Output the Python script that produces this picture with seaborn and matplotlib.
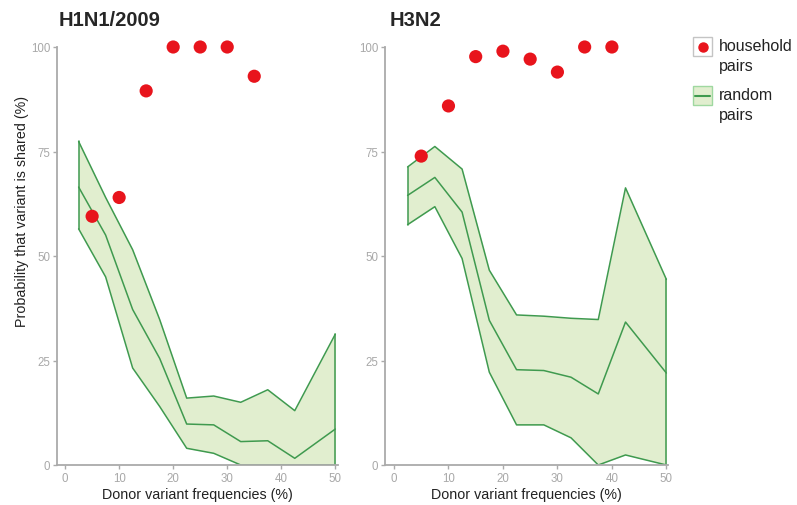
import matplotlib
matplotlib.use("Agg")
import matplotlib.pyplot as plt
import seaborn as sns
from matplotlib.lines import Line2D
from matplotlib.patches import Rectangle

# household pairs: observed share probability (%) per donor frequency
house_freq = [5, 10, 15, 20, 25, 30, 35, 40]
h1n1_house = [59.5, 64, 89.5, 100, 100, 100, 93]
h3n2_house = [73.9, 85.9, 97.7, 99.0, 97.1, 94.0, 100, 100]

# random pairs: bin centres and envelope (lower / median / upper)
rand_freq = [2.5, 7.5, 12.5, 17.5, 22.5, 27.5, 32.5, 37.5, 42.5, 50]
h1n1_low = [56.5, 45.0, 23.2, 14.0, 4.0, 2.8, 0, 0, 0, 0]
h1n1_mid = [66.5, 55.0, 37.2, 25.5, 9.8, 9.6, 5.6, 5.8, 1.6, 8.6]
h1n1_high = [77.4, 64.0, 51.5, 34.8, 16.0, 16.5, 15.0, 18.0, 13.0, 31.3]
h3n2_low = [57.5, 61.8, 49.4, 22.2, 9.6, 9.6, 6.5, 0, 2.4, 0]
h3n2_mid = [64.5, 68.8, 60.5, 34.6, 22.8, 22.6, 21.0, 17.0, 34.2, 22.0]
h3n2_high = [71.3, 76.2, 70.8, 46.6, 35.9, 35.6, 35.1, 34.8, 66.3, 44.4]

titles = ["H1N1/2009", "H3N2"]
legend_labels = ["household\npairs", "random\npairs"]

red = "#e8141c"
fill_green = "#e1eecf"
line_green = "#3f9a4f"
grey = "#aaaaaa"

sns.set_style("white")
plt.rcParams["font.family"] = ["Liberation Sans", "DejaVu Sans"]

W, H = 797, 506
fig = plt.figure(figsize=(W / 100, H / 100), dpi=100)
ax1 = fig.add_axes([57 / W, 1 - 466 / H, 281 / W, 418 / H])
ax2 = fig.add_axes([385 / W, 1 - 466 / H, 283 / W, 418 / H])

panels = [
    (ax1, h1n1_house, h1n1_low, h1n1_mid, h1n1_high),
    (ax2, h3n2_house, h3n2_low, h3n2_mid, h3n2_high),
]

for i, (ax, house, low, mid, high) in enumerate(panels):
    ax.fill_between(rand_freq, low, high, color=fill_green, lw=0, zorder=1)
    for ys in (low, mid, high):
        sns.lineplot(x=rand_freq, y=ys, ax=ax, color=line_green, lw=1.1,
                     estimator=None, zorder=2)
    # close the band at both ends
    ax.plot([rand_freq[0]] * 2, [low[0], high[0]], color=line_green, lw=1.1, zorder=2)
    ax.plot([rand_freq[-1]] * 2, [low[-1], high[-1]], color=line_green, lw=1.1, zorder=2)
    sns.scatterplot(x=house_freq[:len(house)], y=house, ax=ax, color=red, s=90,
                    edgecolor="none", zorder=4, clip_on=False)

    if i == 0:
        ax.set_xlim(-1.5, 50.5)
    else:
        ax.set_xlim(-1.65, 50.3)
    ax.set_ylim(0, 100)
    ax.set_xticks([0, 10, 20, 30, 40, 50])
    ax.set_yticks([0, 25, 50, 75, 100])
    sns.despine(ax=ax)
    for side in ("left", "bottom"):
        ax.spines[side].set_color(grey)
        ax.spines[side].set_linewidth(1.3)
    ax.tick_params(axis="both", colors=grey, labelcolor="#a8a8a8", labelsize=8.3,
                   length=3, width=1, left=True, bottom=True, pad=2)
    ax.set_xlabel("Donor variant frequencies (%)", fontsize=10.3, color="#222222",
                  labelpad=2)
    ax.set_title(titles[i], loc="left", fontsize=14.5, fontweight="bold",
                 x=0.005 if i == 0 else 0.015, pad=16)

ax1.set_ylabel("Probability that variant is shared (%)", fontsize=10.3,
               color="#222222")
ax1.yaxis.set_label_coords(-0.1, 0.61)
ax2.set_ylabel("")

# legend at the right, key drawn beside the first text line of each entry
box_w, box_h = 19 / W, 19 / H
entries = [(38, "household"), (87, "random")]
for k, (top_px, kind) in enumerate(entries):
    x0, y0 = 693 / W, 1 - (top_px + 19) / H
    if kind == "household":
        fig.add_artist(Rectangle((x0, y0), box_w, box_h, transform=fig.transFigure,
                                 facecolor="white", edgecolor="#c4c4c4", lw=1))
        fig.add_artist(Line2D([x0 + box_w / 2], [y0 + box_h / 2], marker="o",
                              color=red, markersize=6.5, ls="",
                              transform=fig.transFigure))
    else:
        fig.add_artist(Rectangle((x0, y0), box_w, box_h, transform=fig.transFigure,
                                 facecolor=fill_green, edgecolor="#9fd8a0", lw=1))
        fig.add_artist(Line2D([x0 + 2 / W, x0 + box_w - 2 / W],
                              [y0 + box_h / 2] * 2, color=line_green, lw=1.5,
                              transform=fig.transFigure))
    fig.text(719 / W, 1 - (top_px + 1) / H, legend_labels[k], ha="left", va="top",
             fontsize=11.5, color="#222222", linespacing=1.45)

fig.savefig("out.png", dpi=100)
